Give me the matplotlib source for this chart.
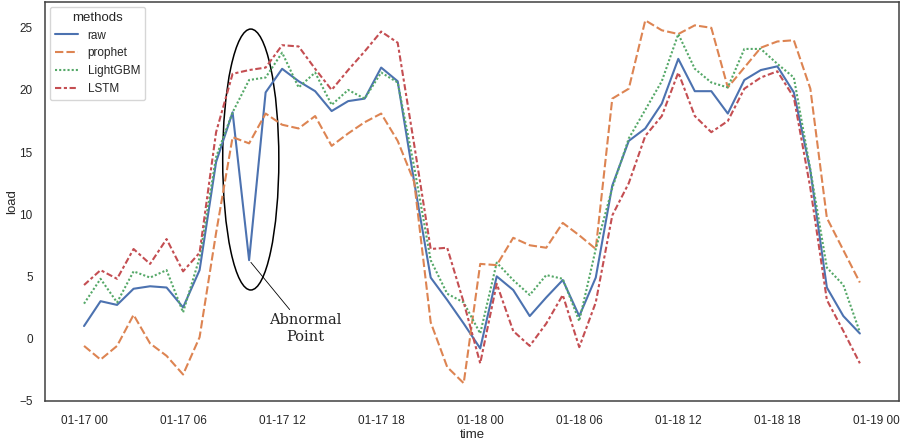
import numpy as np
import pandas as pd
import matplotlib
matplotlib.use("Agg")
import matplotlib.pyplot as plt
import matplotlib.dates as mdates
from matplotlib.patches import Ellipse
import seaborn as sns

# hourly load, 01-17 00 .. 01-18 23
raw = [1.0, 3.0, 2.7, 4.0, 4.2, 4.1, 2.5, 5.5, 14.2, 18.2,
       6.3, 19.8, 21.7, 20.7, 19.9, 18.3, 19.1, 19.3, 21.8, 20.7,
       12.6, 4.9, 3.1, 1.2, -0.8, 5.0, 3.9, 1.8, 3.3, 4.7,
       1.8, 4.9, 12.3, 15.9, 16.9, 18.9, 22.5, 19.9, 19.9, 18.1,
       20.8, 21.6, 21.9, 19.8, 13.5, 4.1, 1.8, 0.4]
prophet = [-0.6, -1.7, -0.6, 1.9, -0.4, -1.4, -2.9, 0.1, 8.5, 16.2,
           15.7, 18.1, 17.2, 16.9, 17.9, 15.5, 16.5, 17.4, 18.1, 15.9,
           12.6, 1.3, -2.3, -3.6, 6.0, 5.9, 8.1, 7.5, 7.3, 9.3,
           8.3, 7.2, 19.3, 20.1, 25.6, 24.8, 24.5, 25.2, 25.0, 20.2,
           21.8, 23.4, 23.9, 24.0, 20.1, 9.7, 7.1, 4.5]
lightgbm = [2.8, 4.8, 2.9, 5.4, 4.9, 5.5, 2.1, 6.5, 14.6, 18.2,
            20.8, 21.0, 23.0, 20.2, 21.4, 18.8, 20.0, 19.3, 21.4, 20.6,
            13.8, 6.3, 3.6, 2.9, 0.4, 6.1, 4.7, 3.5, 5.1, 4.8,
            1.4, 7.2, 12.1, 16.1, 18.4, 20.7, 24.5, 21.7, 20.6, 20.2,
            23.3, 23.3, 22.1, 21.0, 13.6, 5.7, 4.3, 0.5]
lstm = [4.3, 5.5, 4.8, 7.2, 6.0, 8.0, 5.4, 6.9, 16.6, 21.3,
        21.6, 21.8, 23.6, 23.5, 21.7, 20.0, 21.6, 23.1, 24.7, 23.8,
        15.6, 7.2, 7.3, 2.9, -2.0, 4.4, 0.6, -0.6, 1.2, 3.5,
        -0.7, 2.9, 9.9, 12.5, 16.3, 17.9, 21.4, 17.9, 16.6, 17.5,
        20.1, 21.0, 21.5, 19.4, 12.1, 3.1, 0.6, -2.0]

times = pd.date_range("2021-01-17 00:00", periods=len(raw), freq="h")

wide = pd.DataFrame({"raw": raw, "prophet": prophet,
                     "LightGBM": lightgbm, "LSTM": lstm}, index=times)
wide.index.name = "time"
df = wide.reset_index().melt(id_vars="time", var_name="methods", value_name="load")

sns.set_theme(style="white")
plt.rcParams["font.family"] = ["Liberation Sans", "DejaVu Sans"]

fig = plt.figure(figsize=(9.05, 4.42), dpi=100)
ax = fig.add_axes([0.05, 0.092, 0.943, 0.903])

sns.lineplot(data=df, x="time", y="load", hue="methods", style="methods",
             linewidth=1.5, ax=ax)

for s in ax.spines.values():
    s.set_color("0.25")
    s.set_linewidth(1.1)

ax.xaxis.set_major_locator(mdates.HourLocator(byhour=[0, 6, 12, 18]))
ax.xaxis.set_major_formatter(mdates.DateFormatter("%m-%d %H"))
ax.set_xlim(times[0] - pd.Timedelta(hours=2.35), times[-1] + pd.Timedelta(hours=2.35))
ax.tick_params(axis="x", labelsize=8.5, colors="0.15", pad=4)
ax.tick_params(axis="y", labelsize=8.5, colors="0.15", pad=3)
ax.set_xlabel("time", fontsize=9.5, color="0.15", labelpad=1)
ax.set_ylabel("load", fontsize=9.5, color="0.15", labelpad=1)

# mark the abnormal raw value
cx = mdates.date2num(times[0] + pd.Timedelta(hours=10.1))
ell = Ellipse((cx, 14.4), width=3.4 / 24, height=21.0, fill=False,
              edgecolor="black", linewidth=1.1)
ax.add_patch(ell)
ax.annotate("Abnormal\nPoint", xy=(times[10], raw[10]),
            xytext=(times[0] + pd.Timedelta(hours=13.4), 0.8),
            ha="center", va="center", fontsize=10.5, family="DejaVu Serif",
            linespacing=1.3,
            arrowprops=dict(arrowstyle="-", color="black", lw=0.6, shrinkA=0, shrinkB=2))

sns.move_legend(ax, "upper left", fontsize=8.5, title_fontsize=9.5,
                frameon=True, borderaxespad=0.4)

fig.savefig("out.png", dpi=100)
